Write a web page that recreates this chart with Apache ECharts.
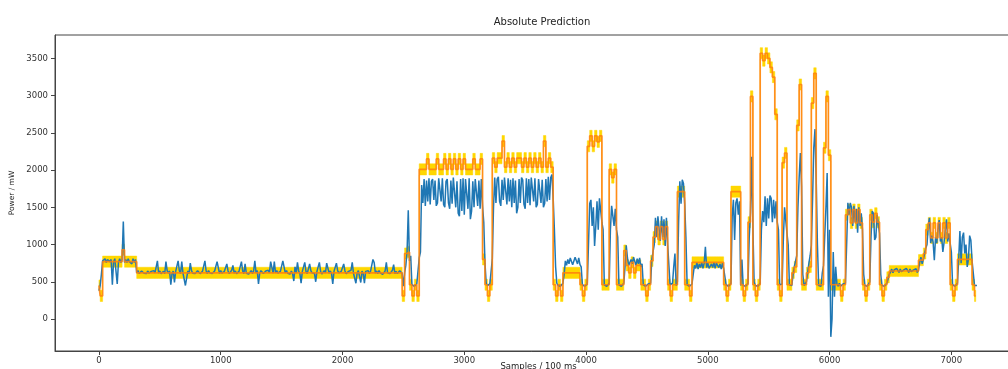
<!DOCTYPE html>
<html>
<head>
<meta charset="utf-8">
<script src="https://cdn.jsdelivr.net/npm/echarts@6/dist/echarts.min.js"></script>
<style>
html,body{margin:0;padding:0;background:#fff;}
#chart{width:1008px;height:369px;}
</style>
</head>
<body>
<div id="chart"></div>
<script>
// ---- data: one bin every 20 samples (bin start = i * sampleStep) ----
const sampleStep = 20;
const bandTolerance = 75; // half-width of the yellow tolerance band (mW)

// measured power: highest and lowest reading inside each 20-sample bin
const measuredMax = [
  450, 780, 810, 800, 810, 800, 810, 800, 810, 800,
  1310, 800, 810, 790, 810, 800, 650, 645, 650, 640,
  645, 640, 650, 645, 780, 645, 640, 770, 650, 645,
  645, 640, 780, 650, 770, 640, 645, 750, 650, 640,
  650, 645, 640, 780, 645, 650, 640, 645, 770, 770,
  650, 640, 740, 645, 655, 720, 645, 640, 770, 645,
  740, 640, 650, 645, 780, 650, 650, 640, 645, 655,
  770, 770, 770, 650, 640, 780, 780, 650, 640, 645,
  700, 760, 645, 640, 760, 640, 740, 650, 645, 640,
  760, 640, 650, 750, 750, 645, 640, 750, 650, 640,
  740, 645, 640, 655, 760, 640, 650, 640, 645, 640,
  650, 640, 800, 760, 645, 650, 640, 645, 760, 645,
  655, 730, 640, 650, 645, 620, 900, 1460, 850, 470,
  470, 820, 1800, 1880, 1860, 1890, 1850, 1880, 1860, 1890,
  1870, 1890, 1850, 1880, 1860, 1900, 1880, 1850, 1880, 1890,
  1880, 1870, 1890, 1850, 1880, 1900, 1860, 1880, 1300, 480,
  470, 800, 1900, 1880, 1910, 1870, 1900, 1880, 1890, 1870,
  1890, 1860, 1880, 1900, 1870, 1890, 1880, 1900, 1880, 1890,
  1880, 1900, 1870, 1880, 1910, 1900, 1940, 1200, 480, 470,
  480, 780, 800, 820, 800, 830, 810, 820, 700, 470,
  470, 1550, 1600, 1500, 1580, 1620, 1600, 1200, 470, 480,
  1520, 1500, 1480, 1100, 470, 480, 990, 820, 800, 830,
  820, 810, 820, 740, 470, 470, 480, 900, 1360, 1380,
  1360, 1380, 1340, 1360, 1000, 480, 880, 500, 1850, 1870,
  1820, 1100, 470, 470, 720, 760, 740, 760, 750, 970,
  750, 740, 760, 750, 770, 740, 750, 700, 470, 480,
  1600, 1560, 1620, 1580, 800, 470, 480, 1420, 2180, 500,
  470, 480, 1450, 1650, 1620, 1660, 1620, 1600, 1580, 1200,
  470, 1500, 1520, 1000, 480, 700, 850, 1900, 2230, 600,
  500, 750, 990, 2300, 2550, 1000, 470, 720, 1500, 1960,
  1200, 900, 700, 470, 480, 470, 480, 1560, 1560, 1500,
  1520, 1480, 1500, 1420, 600, 470, 500, 1450, 1420, 1400,
  1400, 600, 470, 480, 600, 670, 660, 680, 665, 670,
  660, 680, 665, 670, 660, 675, 660, 830, 800, 950,
  1250, 1360, 1120, 1100, 1200, 1330, 1100, 1200, 1340, 1150,
  900, 470, 480, 1180, 1100, 1160, 1000, 1120, 1060, 800,
  470
];

const measuredMin = [
  380, 600, 760, 760, 770, 460, 770, 470, 760, 760,
  760, 760, 770, 740, 760, 620, 610, 610, 615, 610,
  615, 610, 615, 620, 615, 610, 615, 610, 615, 460,
  610, 490, 615, 610, 615, 450, 470, 610, 615, 610,
  615, 610, 605, 615, 610, 620, 610, 615, 620, 610,
  615, 610, 615, 610, 620, 615, 610, 600, 615, 610,
  615, 605, 615, 610, 620, 470, 615, 610, 615, 620,
  620, 615, 620, 615, 600, 615, 620, 615, 605, 610,
  510, 615, 610, 480, 615, 610, 615, 620, 610, 500,
  615, 605, 615, 620, 615, 610, 470, 615, 620, 610,
  615, 610, 600, 620, 615, 480, 615, 490, 610, 480,
  615, 610, 620, 615, 610, 620, 600, 615, 620, 610,
  615, 610, 610, 615, 610, 440, 720, 780, 460, 440,
  440, 450, 900, 1560, 1520, 1580, 1540, 1600, 1520, 1560,
  1580, 1540, 1500, 1560, 1480, 1550, 1500, 1420, 1380, 1450,
  1400, 1480, 1340, 1450, 1500, 1520, 1480, 1520, 750, 450,
  440, 450, 1500, 1560, 1580, 1520, 1600, 1540, 1580, 1500,
  1560, 1420, 1500, 1560, 1540, 1480, 1560, 1530, 1580, 1500,
  1540, 1560, 1500, 1550, 1580, 1600, 1620, 700, 450, 440,
  450, 600, 720, 740, 730, 720, 740, 730, 460, 440,
  450, 1000, 1250, 980, 1250, 1200, 1300, 460, 440, 450,
  1200, 1250, 1200, 460, 440, 450, 700, 720, 730, 740,
  720, 740, 700, 460, 440, 440, 450, 800, 1000, 1100,
  1050, 1100, 980, 1000, 460, 440, 700, 450, 1300, 1550,
  1550, 460, 440, 440, 600, 680, 670, 690, 680, 690,
  680, 670, 690, 680, 690, 670, 680, 460, 440, 450,
  1380, 1060, 1400, 450, 450, 440, 450, 1100, 1240, 450,
  440, 450, 1200, 1300, 1250, 1350, 1300, 1350, 1300, 460,
  440, 1060, 1150, 460, 450, 600, 720, 1500, 1780, 450,
  450, 620, 850, 1600, 1870, 450, 440, 620, 700, 300,
  -240, 0, 300, 440, 440, 440, 450, 1000, 1400, 1250,
  1300, 1160, 1250, 1200, 450, 440, 450, 1100, 1060, 1100,
  1150, 450, 440, 450, 540, 630, 620, 640, 625, 635,
  620, 640, 625, 635, 620, 640, 625, 760, 740, 800,
  1000, 1020, 1030, 790, 1020, 1040, 900, 1030, 1040, 1020,
  460, 440, 450, 800, 750, 880, 700, 800, 780, 450,
  450
];

// predicted power, one value per bin
const predictedPower = [
  450, 310, 770, 770, 770, 770, 770, 770, 770, 770,
  930, 770, 770, 770, 770, 770, 620, 620, 620, 620,
  620, 620, 620, 620, 620, 620, 620, 620, 620, 620,
  620, 620, 620, 620, 620, 620, 620, 620, 620, 620,
  620, 620, 620, 620, 620, 620, 620, 620, 620, 620,
  620, 620, 620, 620, 620, 620, 620, 620, 620, 620,
  620, 620, 620, 620, 620, 620, 620, 620, 620, 620,
  620, 620, 620, 620, 620, 620, 620, 620, 620, 620,
  620, 620, 620, 620, 620, 620, 620, 620, 620, 620,
  620, 620, 620, 620, 620, 620, 620, 620, 620, 620,
  620, 620, 620, 620, 620, 620, 620, 620, 620, 620,
  620, 620, 620, 620, 620, 620, 620, 620, 620, 620,
  620, 620, 620, 620, 620, 310, 880, 900, 460, 310,
  460, 310, 2010, 2010, 2010, 2150, 2010, 2010, 2010, 2150,
  2010, 2010, 2150, 2010, 2150, 2010, 2150, 2010, 2150, 2010,
  2150, 2010, 2010, 2010, 2150, 2010, 2010, 2150, 800, 460,
  310, 460, 2160, 2040, 2160, 2160, 2390, 2040, 2160, 2040,
  2160, 2040, 2160, 2160, 2040, 2160, 2040, 2160, 2040, 2160,
  2040, 2160, 2040, 2390, 2040, 2160, 2040, 460, 310, 460,
  310, 620, 620, 620, 620, 620, 620, 620, 460, 310,
  460, 2320, 2460, 2320, 2460, 2380, 2460, 460, 460, 460,
  2010, 1900, 2010, 460, 460, 460, 920, 720, 620, 760,
  620, 720, 720, 460, 460, 310, 460, 780, 1100, 1240,
  1070, 1240, 1070, 1240, 460, 310, 460, 460, 1710, 1710,
  1710, 460, 460, 310, 760, 760, 760, 760, 760, 760,
  760, 760, 760, 760, 760, 760, 760, 460, 310, 460,
  1710, 1710, 1710, 1710, 460, 310, 460, 1300, 2990, 460,
  310, 460, 3570, 3470, 3570, 3500, 3380, 3250, 2750, 460,
  310, 2100, 2230, 460, 460, 620, 700, 2600, 3150, 460,
  460, 620, 700, 2900, 3300, 460, 460, 460, 2300, 2990,
  2200, 460, 460, 460, 460, 310, 460, 1400, 1470, 1290,
  1470, 1290, 1470, 1290, 460, 310, 460, 1400, 1300, 1420,
  1300, 460, 310, 460, 560, 645, 645, 645, 645, 645,
  645, 645, 645, 645, 645, 645, 645, 790, 790, 880,
  1200, 1290, 1090, 1290, 1090, 1290, 1090, 1290, 1090, 1290,
  460, 310, 460, 800, 800, 800, 800, 800, 800, 460,
  310
];

const chartTitle = 'Absolute Prediction';
const xAxisName = 'Samples / 100 ms';
const yAxisName = 'Power / mW';

// ---- build series data ----
// each bin contributes its low and high reading; the order inside a bin
// follows the direction of the signal so rising/falling edges stay monotone
function binMid(i) {
  const j = Math.max(0, Math.min(measuredMax.length - 1, i));
  return (measuredMax[j] + measuredMin[j]) / 2;
}
const measuredData = [];
measuredMax.forEach((hi, i) => {
  const lo = measuredMin[i];
  const x = i * sampleStep;
  const rising = binMid(i + 1) > binMid(i - 1);
  const first = rising ? lo : hi;
  const second = rising ? hi : lo;
  measuredData.push([x, first], [x + sampleStep / 2, second]);
});
const predictedData = predictedPower.map((v, i) => [i * sampleStep, v]);

const font = 'DejaVu Sans';
const axisColor = '#444';

// tolerance band (prediction +/- bandTolerance), drawn with the same
// mid-point steps as the prediction line
function renderBand(params, api) {
  const n = predictedPower.length;
  const half = sampleStep / 2;
  const upper = [], lower = [];
  predictedPower.forEach((v, i) => {
    const x0 = i === 0 ? 0 : i * sampleStep - half;
    const x1 = i === n - 1 ? i * sampleStep : i * sampleStep + half;
    upper.push(api.coord([x0, v + bandTolerance]), api.coord([x1, v + bandTolerance]));
    lower.push(api.coord([x0, v - bandTolerance]), api.coord([x1, v - bandTolerance]));
  });
  return {
    type: 'polygon',
    shape: {points: upper.concat(lower.reverse())},
    style: {fill: '#ffd700', stroke: '#ffd700', lineWidth: 0.5}
  };
}

const chart = echarts.init(document.getElementById('chart'), null, {renderer: 'canvas'});
chart.setOption({
  animation: false,
  backgroundColor: '#fff',
  title: {
    text: chartTitle,
    left: 537,
    top: 12,
    textAlign: 'center',
    textStyle: {fontFamily: font, fontSize: 10, fontWeight: 'normal', color: '#222'}
  },
  grid: {
    left: 55, right: -14, top: 35, bottom: 18,
    outerBoundsMode: 'none',
    containLabel: false,
    show: true, borderColor: axisColor, borderWidth: 1, backgroundColor: 'transparent'
  },
  xAxis: {
    type: 'value',
    min: -361, max: 7580,
    splitNumber: 8,
    name: xAxisName,
    nameLocation: 'middle',
    nameGap: 11,
    nameMoveOverlap: false,
    nameTextStyle: {fontFamily: font, fontSize: 8.5, color: '#222'},
    axisLine: {show: true, onZero: false, lineStyle: {color: axisColor, width: 1}},
    axisTick: {show: true, inside: false, length: 4, lineStyle: {color: axisColor}},
    axisLabel: {fontFamily: font, fontSize: 8.5, color: '#333', margin: 5,
      showMinLabel: false, showMaxLabel: false, formatter: v => String(v)},
    splitLine: {show: false}
  },
  yAxis: {
    type: 'value',
    min: -430, max: 3815,
    splitNumber: 8,
    name: yAxisName,
    nameLocation: 'middle',
    nameGap: 39,
    nameMoveOverlap: false,
    nameRotate: 90,
    nameTextStyle: {fontFamily: font, fontSize: 7.5, color: '#222'},
    axisLine: {show: true, onZero: false, lineStyle: {color: axisColor, width: 1}},
    axisTick: {show: true, inside: false, length: 4, lineStyle: {color: axisColor}},
    axisLabel: {fontFamily: font, fontSize: 8.5, color: '#333', margin: 7,
      showMinLabel: false, showMaxLabel: false, formatter: v => String(v)},
    splitLine: {show: false}
  },
  series: [
    {
      name: 'tolerance', type: 'custom', data: [[0, 0]],
      renderItem: renderBand, clip: true, silent: true, z: 1
    },
    {
      name: 'measured', type: 'line', data: measuredData,
      symbol: 'none', lineStyle: {color: '#1f77b4', width: 1.5}, z: 2
    },
    {
      name: 'predicted', type: 'line', data: predictedData, step: 'middle',
      symbol: 'none', lineStyle: {color: '#ff7f0e', width: 1.7, opacity: 0.85}, z: 3
    }
  ]
});
</script>
</body>
</html>
